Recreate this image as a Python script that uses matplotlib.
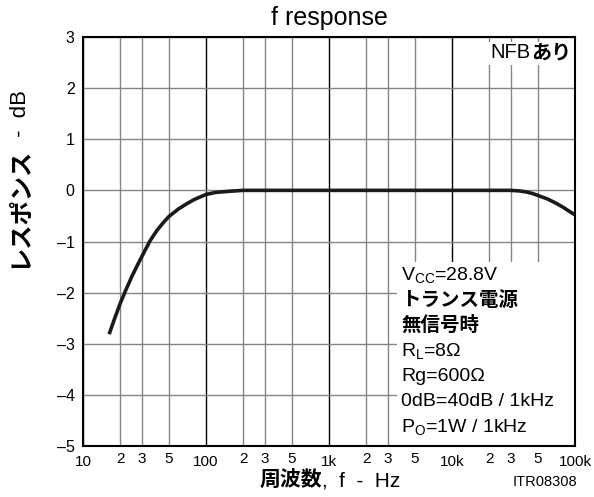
import numpy as np
import matplotlib
matplotlib.use("Agg")
import matplotlib.pyplot as plt
from matplotlib.patches import Rectangle
from matplotlib.ticker import FixedLocator

plt.rcParams['font.family'] = ['Liberation Sans', 'Noto Sans CJK JP', 'DejaVu Sans']

# values
freq = [16.5, 18, 20, 22, 25, 28, 30, 35, 40, 45, 50, 60, 70, 80, 100, 120, 150, 200, 300,
        1000, 10000, 30000, 35000, 40000, 45000, 50000, 60000, 70000, 80000, 90000, 100000]
gain = [-2.78, -2.52, -2.22, -1.98, -1.68, -1.44, -1.30, -0.99, -0.78, -0.63, -0.51, -0.36,
        -0.26, -0.18, -0.08, -0.04, -0.02, 0.0, 0.0,
        0.0, 0.0, 0.0, -0.01, -0.03, -0.06, -0.10, -0.17, -0.25, -0.33, -0.41, -0.48]

decades = [10, 100, 1000, 10000, 100000]
decade_labels = ['10', '100', '1k', '10k', '100k']
minors = [m * d for d in decades[:-1] for m in (2, 3, 5)]
minor_labels = ['2', '3', '5'] * 4
yticks = [3, 2, 1, 0, -1, -2, -3, -4, -5]

info_lines = [
    ('$\\mathregular{V_{CC}}$=28.8V', 'normal'),
    ('トランス電源', 'bold'),
    ('無信号時', 'bold'),
    ('$\\mathregular{R_L}$=8Ω', 'normal'),
    ('Rg=600Ω', 'normal'),
    ('0dB=40dB / 1kHz', 'normal'),
    ('$\\mathregular{P_O}$=1W / 1kHz', 'normal'),
]

W, H = 594, 497
fig = plt.figure(figsize=(W / 100, H / 100), dpi=100)
ax = fig.add_axes([83 / W, 1 - 446 / H, 492 / W, 409 / H])

ax.set_xscale('log')
ax.set_xlim(10, 100000)
ax.set_ylim(-5, 3)

# grid
for d in decades:
    ax.axvline(d, color='black', lw=1.0, zorder=0.5)
for m in minors:
    ax.axvline(m, color='#858585', lw=1.0, zorder=0.5)
for y in yticks:
    ax.axhline(y, color='#858585', lw=1.0, zorder=0.5)

ax.plot(freq, gain, color='#1a1a1a', lw=2.6, solid_joinstyle='round', zorder=3)

# white box behind the conditions text
ax.add_patch(Rectangle(((397 - 83) / 492, 0), (575 - 397) / 492, (446 - 262) / 409,
                       transform=ax.transAxes, facecolor='white', edgecolor='none', zorder=1))
# white patch behind NFB label
ax.add_patch(Rectangle(((486 - 83) / 492, 1 - (65 - 37) / 409), (575 - 486) / 492, (65 - 42) / 409,
                       transform=ax.transAxes, facecolor='white', edgecolor='none', zorder=1))

ax.xaxis.set_major_locator(FixedLocator(decades))
ax.set_xticklabels(decade_labels)
ax.xaxis.set_minor_locator(FixedLocator(minors))
ax.set_xticklabels(minor_labels, minor=True)
ax.tick_params(axis='x', which='major', length=0, pad=6.5, labelsize=11)
ax.tick_params(axis='x', which='minor', length=0, pad=4.5, labelsize=11)
ax.set_yticks(yticks)
ax.set_yticklabels([str(v).replace('-', '\u2013') for v in yticks])
ax.tick_params(axis='y', length=0, pad=6, labelsize=11.5)

for s in ax.spines.values():
    s.set_linewidth(1.5)
    s.set_zorder(4)

fig.text(329 / W, 1 - 18 / H, 'f response', ha='center', va='center', fontsize=18)

# NFB label
t1 = fig.text(571 / W, 1 - 53 / H, 'あり', ha='right', va='center', fontsize=14.5,
              fontweight='bold', zorder=5)
ax.annotate('NFB', xy=(0, 0.5), xycoords=t1, ha='right', va='center', fontsize=14.5, zorder=5)

for i, (txt, wt) in enumerate(info_lines):
    fig.text(401 / W, 1 - (275 + 25.3 * i) / H, txt, ha='left', va='center', fontsize=14,
             fontweight=wt, zorder=5)

# axis labels
fig.text(322 / W, 1 - 481 / H, '周波数', ha='right', va='center', fontsize=15, fontweight='bold')
fig.text(322 / W, 1 - 481 / H, ',  f  -  Hz', ha='left', va='center', fontsize=15)
fig.text(577 / W, 1 - 482 / H, 'ITR08308', ha='right', va='center', fontsize=10.5)

fig.text(20 / W, 1 - 268 / H, 'レスポンス', rotation=90, ha='center', va='bottom', fontsize=17.5,
         fontweight='bold')
fig.text(20 / W, 1 - 143 / H, ' -  dB', rotation=90, ha='center', va='bottom', fontsize=16)

fig.savefig('out.png', dpi=100)
